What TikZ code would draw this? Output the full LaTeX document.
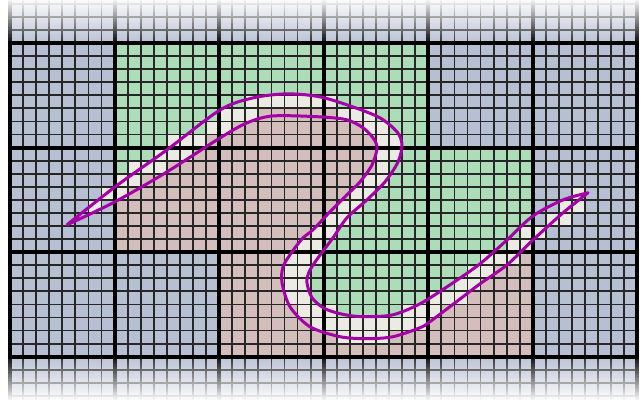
\documentclass[tikz,border=0pt]{standalone}
\usepackage{xcolor}
\definecolor{cellb}{RGB}{183,191,211}
\definecolor{cellg}{RGB}{173,220,184}
\definecolor{cellr}{RGB}{211,190,188}
\definecolor{cellw}{RGB}{235,234,227}
\definecolor{bandpink}{RGB}{165,0,168}
\usepackage{tikz}
\tikzset{
  fine grid/.style={draw=black!85, line width=1.6pt, step=1},
  coarse grid/.style={draw=black, line width=3.6pt, step=8},
  band outline/.style={draw=bandpink, line width=2.6pt, line join=round},
}
\begin{document}
\begin{tikzpicture}[x=0.4cm, y=0.4cm]
  \useasboundingbox (-0.765,-3.29) rectangle (48.35,27.29);
  \fill[white] (-0.765,-3.29) rectangle (48.35,27.29);
  % fade zones above and below
  \fill[cellb] (0,24) rectangle (48,27.4);
  \fill[cellb] (0,-3.4) rectangle (48,0);
  % fine cells, one row at a time from the top (colour/count)
  \foreach \cells [count=\j from 0] in {
    {b/8,g/24,b/16},
    {b/8,g/24,b/16},
    {b/8,g/24,b/16},
    {b/8,g/24,b/16},
    {b/8,g/10,w/7,g/7,b/16},
    {b/8,g/8,w/3,r/6,w/3,g/4,b/16},
    {b/8,g/7,w/2,r/10,w/2,g/3,b/16},
    {b/8,g/4,w/3,r/13,w/2,g/2,b/16},
    {b/8,g/3,w/3,r/14,w/2,g/10,b/8},
    {b/8,g/1,w/3,r/16,w/1,g/11,b/8},
    {b/8,w/2,r/17,w/2,g/11,b/8},
    {b/7,w/2,r/17,w/2,g/12,b/3,w/1,b/4},
    {b/6,w/1,b/1,r/17,w/2,g/13,b/2,w/2,b/4},
    {b/8,r/16,w/2,g/14,b/1,w/2,b/5},
    {b/8,r/15,w/2,g/14,w/2,b/7},
    {b/8,r/14,w/2,g/14,w/2,b/8},
    {b/16,r/5,w/3,g/12,w/3,r/1,b/8},
    {b/16,r/5,w/2,g/12,w/2,r/3,b/8},
    {b/16,r/5,w/2,g/11,w/2,r/4,b/8},
    {b/16,r/5,w/2,g/9,w/3,r/5,b/8},
    {b/16,r/6,w/3,g/5,w/3,r/7,b/8},
    {b/16,r/7,w/9,r/8,b/8},
    {b/16,r/9,w/4,r/11,b/8},
    {b/16,r/24,b/8}} {
    \foreach \c/\n [remember=\e as \s (initially 0), evaluate=\n as \e using \s+\n] in \cells
      \fill[fill=cell\c] (\s,23-\j) rectangle (\e,24-\j);
  }
  % grid
  \draw[fine grid] (0,-3.4) grid (48,27.4);
  \draw[coarse grid] (0,-3.4) grid (48,27.4);
  % fading to white
  \foreach \k in {0,...,29} {
    \fill[white, opacity=0.1+0.85*\k/29] (-1,24.15+0.106*\k) rectangle (48.6,24.15+0.106*\k+0.107);
    \fill[white, opacity=0.1+0.85*\k/29] (-1,-0.15-0.106*\k) rectangle (48.6,-0.15-0.106*\k-0.107);
  }
  % band outline
  \draw[band outline] plot[smooth] coordinates {
      (4.36,10.09) (8.03,12.99) (12.01,15.83) (16.07,18.88) (18.59,19.80)
      (21.19,20.11) (23.72,19.88) (26.24,19.11) (28.31,18.27) (29.61,17.20)
      (29.99,16.21) (29.69,14.91) (28.69,13.38) (27.31,12.00) (25.78,10.63)
      (24.71,9.10) (23.57,7.57) (22.88,6.50) (22.72,5.66) (23.11,4.51)
      (24.10,3.67) (25.63,3.21) (27.16,3.06) (29.30,3.21) (31.37,4.05)
      (33.66,5.50) (35.96,7.11) (38.03,8.94) (40.02,10.78) (42.31,12.00)
      (44.22,12.54)}
    -- plot[smooth] coordinates {
      (44.22,12.54) (42.31,11.01) (40.02,8.94) (38.03,7.03) (35.96,5.58)
      (34.66,4.59) (32.13,2.68) (31.37,2.22) (29.30,1.53) (27.31,1.38)
      (25.25,1.53) (22.95,2.29) (21.42,3.82) (20.81,5.66) (20.89,6.88)
      (21.58,8.03) (22.42,9.10) (23.18,9.71) (24.48,11.09) (25.78,12.39)
      (26.78,13.38) (27.70,14.68) (28.08,15.98) (27.77,16.74) (27.01,17.51)
      (25.78,18.12) (23.72,18.35) (20.12,18.42) (18.13,17.89) (16.07,16.74)
      (12.01,14.14) (8.03,11.85) (4.36,10.09)} -- cycle;
\end{tikzpicture}
\end{document}
